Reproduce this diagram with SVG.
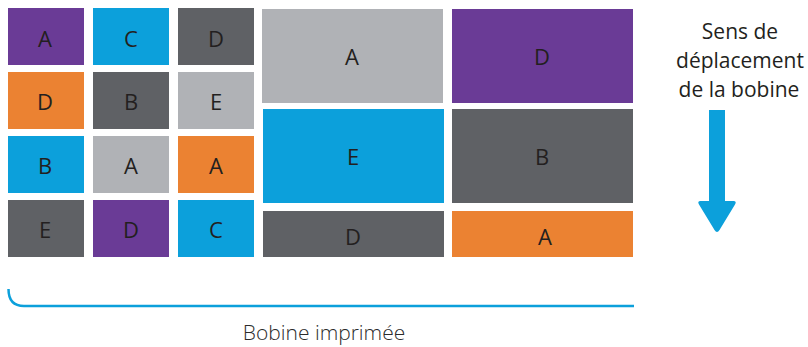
<svg xmlns="http://www.w3.org/2000/svg" width="808" height="347" viewBox="0 0 808 347">
<style>
.t{font-family:"Open Sans","Liberation Sans",sans-serif;font-size:22px;font-weight:500;fill:#231f20;text-anchor:middle}
.p{fill:#6a3b96}.b{fill:#0ca0db}.d{fill:#5f6165}.l{fill:#b0b2b6}.o{fill:#eb8232}
.lab{font-family:"Open Sans","Liberation Sans",sans-serif;font-size:21px;fill:#231f20;text-anchor:middle}
</style>
<rect width="808" height="347" fill="#fff"/>
<g id="tiles">
<g id="r1c1"><rect class="p" x="8" y="8" width="76" height="57"/><text class="t" x="45" y="47">A</text></g>
<g id="r1c2"><rect class="b" x="93" y="8" width="76" height="57"/><text class="t" x="131" y="47">C</text></g>
<g id="r1c3"><rect class="d" x="178" y="8" width="76" height="57"/><text class="t" x="216" y="47">D</text></g>
<g id="r2c1"><rect class="o" x="8" y="72" width="76" height="57"/><text class="t" x="45" y="110">D</text></g>
<g id="r2c2"><rect class="d" x="93" y="72" width="76" height="57"/><text class="t" x="131" y="110">B</text></g>
<g id="r2c3"><rect class="l" x="178" y="72" width="76" height="57"/><text class="t" x="216" y="110">E</text></g>
<g id="r3c1"><rect class="b" x="8" y="136" width="76" height="57"/><text class="t" x="45" y="174">B</text></g>
<g id="r3c2"><rect class="l" x="93" y="136" width="76" height="57"/><text class="t" x="131" y="174">A</text></g>
<g id="r3c3"><rect class="o" x="178" y="136" width="76" height="57"/><text class="t" x="216" y="174">A</text></g>
<g id="r4c1"><rect class="d" x="8" y="200" width="76" height="57"/><text class="t" x="45" y="238">E</text></g>
<g id="r4c2"><rect class="p" x="93" y="200" width="76" height="57"/><text class="t" x="131" y="238">D</text></g>
<g id="r4c3"><rect class="b" x="178" y="200" width="76" height="57"/><text class="t" x="216" y="238">C</text></g>
<g id="bA1"><rect class="l" x="262" y="9" width="181" height="94"/><text class="t" x="352" y="65">A</text></g>
<g id="bD1"><rect class="p" x="452" y="9" width="181" height="94"/><text class="t" x="542" y="65">D</text></g>
<g id="bE"><rect class="b" x="263" y="109" width="181" height="94"/><text class="t" x="353" y="165">E</text></g>
<g id="bB"><rect class="d" x="452" y="109" width="181" height="94"/><text class="t" x="542" y="165">B</text></g>
<g id="bD2"><rect class="d" x="263" y="211" width="181" height="46"/><text class="t" x="353" y="245">D</text></g>
<g id="bA2"><rect class="o" x="452" y="211" width="181" height="46"/><text class="t" x="545" y="245">A</text></g>
</g>
<g id="direction">
<text class="lab" x="740" y="39">Sens de</text>
<text class="lab" x="740" y="68">déplacement</text>
<text class="lab" x="739" y="97">de la bobine</text>
<path d="M709 110H725V201H733.5Q737 201 735 204.5L719.5 230Q717 234 714.5 230L699 204.5Q697 201 700.5 201H709Z" fill="#0ca0db"/>
</g>
<g id="connectors">
<path d="M8.5 289Q8.5 306 24 306H634" fill="none" stroke="#0ca0db" stroke-width="2.5"/>
</g>
<g id="roll">
<text class="lab" x="324" y="340" style="font-weight:300;fill:#2b2b2b">Bobine imprimée</text>
</g>
</svg>
